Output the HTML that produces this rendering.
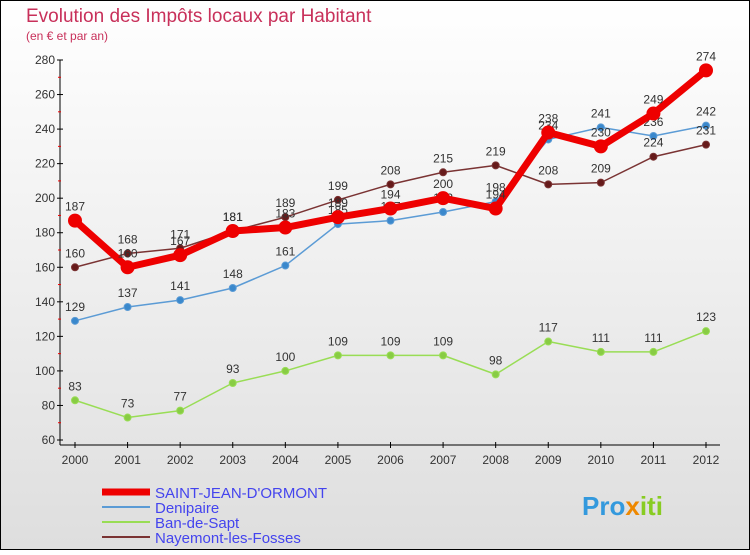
<!DOCTYPE html>
<html><head><meta charset="utf-8"><style>
body{margin:0;width:750px;height:550px;overflow:hidden;font-family:"Liberation Sans",sans-serif}
svg text{font-family:"Liberation Sans",sans-serif}
</style></head><body>
<svg id="c" width="750" height="550" xmlns="http://www.w3.org/2000/svg">
<defs><linearGradient id="bg" x1="0" y1="0" x2="0" y2="1"><stop offset="0" stop-color="#ffffff"/><stop offset="1" stop-color="#dedede"/></linearGradient></defs>
<rect x="0.5" y="0.5" width="749" height="549" fill="url(#bg)" stroke="#000"/>
<text x="26" y="22" font-size="19" fill="#c8305a">Evolution des Impôts locaux par Habitant</text>
<text x="26" y="40" font-size="12" fill="#c8305a">(en € et par an)</text>
<g id="axes"></g><g id="series"></g>
<g>
<line x1="102" y1="492" x2="150" y2="492" stroke="#ee0000" stroke-width="7"/>
<text x="155" y="498" font-size="15" fill="#4444ee">SAINT-JEAN-D'ORMONT</text>
<line x1="102" y1="507" x2="150" y2="507" stroke="#5b9bd5" stroke-width="2"/>
<text x="155" y="513" font-size="15" fill="#4444ee">Denipaire</text>
<line x1="102" y1="522" x2="150" y2="522" stroke="#99dd55" stroke-width="2"/>
<text x="155" y="528" font-size="15" fill="#4444ee">Ban-de-Sapt</text>
<line x1="102" y1="537" x2="150" y2="537" stroke="#7a3333" stroke-width="2"/>
<text x="155" y="543" font-size="15" fill="#4444ee">Nayemont-les-Fosses</text>
</g>
<text x="582" y="515" font-size="26" font-weight="bold" fill="#3399dd">Pro<tspan fill="#ee8800">x</tspan><tspan fill="#88cc22">iti</tspan></text>
</svg>
<script>
const years=[2000,2001,2002,2003,2004,2005,2006,2007,2008,2009,2010,2011,2012];
const yTicks=[60,80,100,120,140,160,180,200,220,240,260,280];
const sjValues=[187,160,167,181,183,189,194,200,194,238,230,249,274];
const denValues=[129,137,141,148,161,185,187,192,198,234,241,236,242];
const banValues=[83,73,77,93,100,109,109,109,98,117,111,111,123];
const nayValues=[160,168,171,181,189,199,208,215,219,208,209,224,231];
const NS="http://www.w3.org/2000/svg";
const X=i=>75+i*(706-75)/(years.length-1);
const Y=v=>440-(v-60)*(380/220);
function mk(t,a,p){const e=document.createElementNS(NS,t);for(const k in a)e.setAttribute(k,a[k]);p.appendChild(e);return e;}
const ax=document.getElementById('axes');
const yl=mk('line',{x1:60,y1:60,x2:60,y2:445,stroke:'#000'},ax);


const xl=mk('line',{x1:60,y1:445,x2:720,y2:445,stroke:'#000'},ax);


yTicks.forEach(v=>{
  mk('line',{x1:57,y1:Y(v),x2:63,y2:Y(v),stroke:'#000'},ax);
  if(v<280)mk('line',{x1:58,y1:Y(v+10),x2:61,y2:Y(v+10),stroke:'#e00'},ax);
  const t=mk('text',{x:55,y:Y(v)+4,'font-size':12,'text-anchor':'end',fill:'#333'},ax);
  t.textContent=v;
  
  
});
years.forEach((y,i)=>{
  mk('line',{x1:X(i),y1:442,x2:X(i),y2:448,stroke:'#000'},ax);
  const t=mk('text',{x:X(i),y:464,'font-size':12,'text-anchor':'middle',fill:'#333'},ax);
  t.textContent=y;
  
  
});
const sg=document.getElementById('series');
function series(vals,color,w,r,name,dot){
  const g=mk('g',{},sg);
  
  
  mk('polyline',{points:vals.map((v,i)=>X(i)+','+Y(v)).join(' '),fill:'none',stroke:color,'stroke-width':w,'stroke-linejoin':'round'},g);
  vals.forEach((v,i)=>{
    const c=mk('circle',{cx:X(i),cy:Y(v),r:r,fill:dot,stroke:color,'stroke-width':1},g);
    
    
    const t=mk('text',{x:X(i),y:Y(v)-10,'font-size':12,'text-anchor':'middle',fill:'#333'},g);
    t.textContent=v;
    
    
  });
}
series(banValues,'#99dd55',1.5,3.5,'ban-de-sapt-series','#88cc44');
series(denValues,'#5b9bd5',1.5,3.5,'denipaire-series','#3a88cc');
series(nayValues,'#7a3333',1.5,3.5,'nayemont-series','#661a1a');
series(sjValues,'#ee0000',7,6.5,'saint-jean-series','#ee0000');
</script>
</body></html>
